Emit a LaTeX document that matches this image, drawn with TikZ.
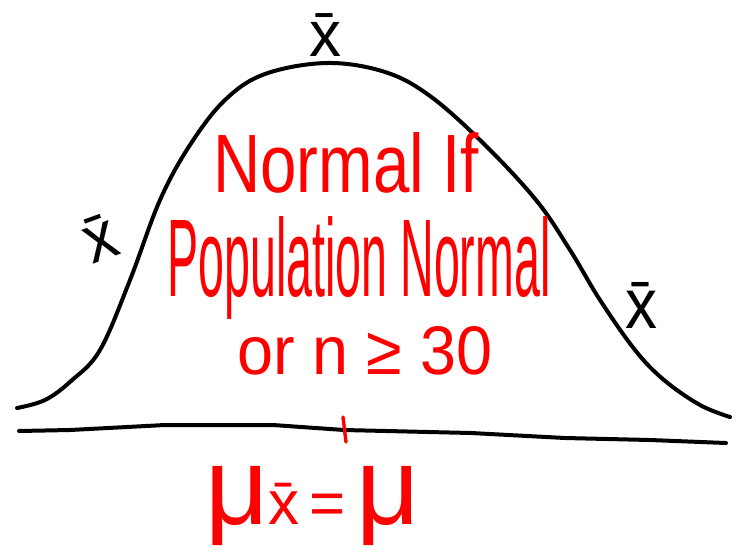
\documentclass[tikz,border=0pt]{standalone}
\usepackage{fontspec}
\setmainfont{Liberation Sans}
\usepackage{graphicx}
\begin{document}
\begin{tikzpicture}[x=1pt,y=-1pt,
  curve/.style={line width=4pt,black,line cap=round,line join=round},
  redtxt/.style={text=red,inner sep=0pt,anchor=center},
  blktxt/.style={text=black,inner sep=0pt,anchor=center}]
\useasboundingbox (0,0) rectangle (738,552);
% bell curve
\draw[curve] plot[smooth,tension=0.6] coordinates {
 (17,408) (45,400) (71,381) (100,350) (130,280) (160,200) (190,145)
 (225,100) (265,74) (327,63) (385,72) (430,96) (483,143) (536,200)
 (570,250) (600,300) (635,350) (664,380) (700,405) (730,417)};
% axis
\coordinate (axL) at (19,431);
\coordinate (axR) at (726,443);
\draw[curve] (axL) -- (70,430) -- (165,425) -- (273,425) -- (344,430)
  -- (471,433) -- (565,438) -- (650,440) -- (axR);
% tick
\coordinate (tkT) at (343,417);
\coordinate (tkB) at (346,442);
\draw[red,line width=3.4pt,line cap=round] (tkT) -- (tkB);
% labels
\node[blktxt] (xtop) at (325,35) {\resizebox{32pt}{42pt}{\={x}}};
\node[blktxt,rotate=20] (xleft) at (100,238) {\resizebox{32pt}{44pt}{\={x}}};
\node[blktxt] (xright) at (641,305) {\resizebox{32pt}{46pt}{\={x}}};
% red text
\node[redtxt] (l1) at (346,163) {\resizebox{265pt}{60pt}{Normal If}};
\node[redtxt] (l2) at (359,268) {\resizebox{383pt}{80pt}{Population Normal}};
\node[redtxt] (l3) at (365,351) {\resizebox{255pt}{48pt}{or n ≥ 30}};
\node[redtxt,anchor=base west] (mu) at (205,524)
  {{\fontsize{110}{110}\selectfont μ}{\fontsize{62}{62}\selectfont\={x}}%
   {\fontsize{62}{62}\selectfont\,=\,}{\fontsize{110}{110}\selectfont μ}};
\end{tikzpicture}
\end{document}
